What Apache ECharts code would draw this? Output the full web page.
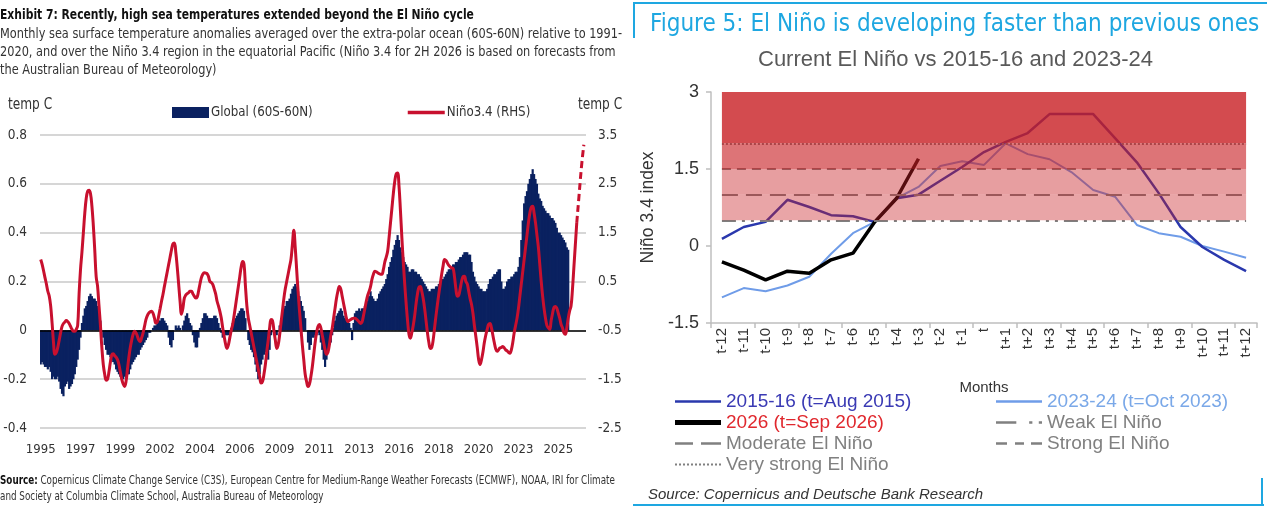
<!DOCTYPE html>
<html lang="en">
<head>
<meta charset="UTF-8">
<title>El Niño</title>
<script src="https://cdn.jsdelivr.net/npm/echarts@6/dist/echarts.min.js"></script>
<style>
  body { margin: 0; background: #fff; }
  #left { position: absolute; left: 0; top: 0; width: 630px; height: 508px; }
  #right { position: absolute; left: 630px; top: 0; width: 637px; height: 508px; }
</style>
</head>
<body>
<div id="left"></div>
<div id="right"></div>
<script type="text/javascript">
// ---------- data: left chart (monthly, Jan 1995 onwards) ----------
var firstYear = 1995, lastYear = 2026;

// global SST anomaly 60S-60N, temp C (LHS), Jan 1995 - Dec 2025
var globalSst = [
  -0.14,-0.13,-0.14,-0.15,-0.15,-0.16,-0.15,-0.17,-0.2,-0.19,-0.2,-0.2,
  -0.19,-0.21,-0.24,-0.26,-0.27,-0.23,-0.22,-0.21,-0.24,-0.23,-0.22,-0.2,
  -0.18,-0.15,-0.12,-0.08,-0.03,0.03,0.06,0.09,0.1,0.12,0.14,0.15,
  0.14,0.13,0.13,0.12,0.1,0.07,0.04,0.0,-0.03,-0.06,-0.08,-0.1,
  -0.1,-0.11,-0.12,-0.13,-0.14,-0.16,-0.17,-0.18,-0.19,-0.2,-0.2,-0.19,
  -0.2,-0.18,-0.18,-0.16,-0.14,-0.13,-0.12,-0.11,-0.1,-0.1,-0.08,-0.07,
  -0.06,-0.05,-0.04,-0.03,-0.01,-0.01,0.0,0.01,0.02,0.02,0.03,0.04,
  0.04,0.05,0.05,0.04,0.03,0.02,-0.03,-0.06,-0.07,-0.04,0.0,0.02,
  0.01,0.02,0.01,0.0,0.02,0.04,0.06,0.07,0.05,0.03,0.02,-0.02,
  -0.05,-0.07,-0.07,-0.03,0.01,0.03,0.05,0.07,0.07,0.06,0.05,0.05,
  0.05,0.05,0.06,0.06,0.05,0.03,0.01,-0.01,-0.03,-0.02,-0.02,-0.02,
  -0.02,-0.01,0.01,0.03,0.04,0.05,0.06,0.07,0.08,0.09,0.09,0.08,
  0.05,0.0,-0.04,-0.06,-0.08,-0.09,-0.11,-0.14,-0.17,-0.2,-0.18,-0.14,
  -0.12,-0.1,-0.09,-0.1,-0.12,-0.08,-0.02,0.0,-0.01,-0.02,-0.02,0.0,
  0.02,0.04,0.07,0.09,0.1,0.12,0.12,0.13,0.15,0.17,0.18,0.19,
  0.18,0.16,0.14,0.12,0.1,0.08,0.05,0.0,-0.05,-0.08,-0.06,-0.03,
  -0.03,-0.02,-0.02,-0.01,-0.02,-0.05,-0.08,-0.12,-0.15,-0.12,-0.09,-0.06,
  -0.05,-0.02,0.01,0.04,0.06,0.07,0.08,0.09,0.08,0.06,0.05,0.05,
  0.04,0.03,0.01,-0.04,0.03,0.07,0.08,0.08,0.09,0.08,0.09,0.09,
  0.1,0.11,0.12,0.14,0.16,0.14,0.13,0.12,0.12,0.13,0.15,0.16,
  0.17,0.18,0.19,0.21,0.23,0.26,0.28,0.3,0.33,0.35,0.37,0.39,
  0.37,0.34,0.32,0.3,0.28,0.27,0.26,0.24,0.24,0.25,0.25,0.24,
  0.24,0.23,0.23,0.22,0.21,0.2,0.19,0.18,0.17,0.16,0.16,0.17,
  0.17,0.17,0.18,0.18,0.19,0.2,0.21,0.21,0.22,0.23,0.24,0.25,
  0.25,0.26,0.27,0.27,0.28,0.28,0.29,0.3,0.3,0.31,0.32,0.32,
  0.32,0.31,0.31,0.28,0.24,0.22,0.2,0.19,0.18,0.17,0.17,0.16,
  0.16,0.16,0.17,0.19,0.21,0.21,0.22,0.23,0.23,0.24,0.25,0.25,
  0.2,0.17,0.17,0.18,0.2,0.21,0.21,0.22,0.22,0.23,0.24,0.24,
  0.26,0.3,0.37,0.45,0.52,0.55,0.57,0.6,0.62,0.64,0.66,0.64,
  0.62,0.6,0.56,0.54,0.53,0.51,0.5,0.49,0.48,0.48,0.47,0.46,
  0.46,0.45,0.44,0.42,0.4,0.4,0.39,0.38,0.37,0.36,0.34,0.33
];

// Nino 3.4 anomaly, temp C (RHS), Jan 1995 - Jun 2026
var nino34 = [
  0.95,0.85,0.72,0.58,0.45,0.3,0.2,0.0,-0.35,-0.75,-0.99,-0.95,
  -0.85,-0.7,-0.55,-0.42,-0.36,-0.33,-0.3,-0.32,-0.36,-0.42,-0.48,-0.52,
  -0.52,-0.48,-0.4,0.25,0.75,1.1,1.5,1.9,2.2,2.35,2.37,2.3,
  2.05,1.65,1.15,0.6,0.4,0.0,-0.4,-0.85,-1.2,-1.4,-1.52,-1.5,
  -1.35,-1.15,-1.0,-0.98,-1.02,-1.05,-1.1,-1.2,-1.35,-1.5,-1.6,-1.65,
  -1.55,-1.3,-1.05,-0.85,-0.7,-0.58,-0.52,-0.55,-0.62,-0.7,-0.73,-0.65,
  -0.55,-0.42,-0.28,-0.2,-0.15,-0.12,-0.11,-0.15,-0.25,-0.35,-0.33,-0.2,
  -0.05,0.1,0.24,0.4,0.55,0.7,0.85,1.0,1.15,1.27,1.29,1.1,
  0.8,0.45,0.1,-0.17,-0.05,0.16,0.22,0.25,0.27,0.3,0.3,0.25,
  0.2,0.16,0.18,0.3,0.45,0.58,0.65,0.68,0.67,0.66,0.6,0.5,
  0.48,0.44,0.35,0.25,0.1,0.0,-0.11,-0.25,-0.45,-0.62,-0.78,-0.87,
  -0.8,-0.65,-0.5,-0.38,-0.2,0.0,0.2,0.4,0.6,0.8,0.91,0.85,
  0.4,0.0,-0.25,-0.4,-0.55,-0.7,-0.85,-1.0,-1.15,-1.3,-1.45,-1.58,
  -1.55,-1.4,-1.2,-0.93,-0.7,-0.45,-0.28,-0.3,-0.5,-0.7,-0.87,-0.8,
  -0.6,-0.35,-0.1,0.15,0.35,0.5,0.65,0.8,0.95,1.25,1.55,1.2,
  0.75,0.3,-0.1,-0.45,-0.8,-1.1,-1.4,-1.55,-1.65,-1.6,-1.45,-1.25,
  -1.0,-0.75,-0.55,-0.42,-0.38,-0.45,-0.6,-0.75,-0.9,-0.99,-0.95,-0.8,
  -0.6,-0.46,-0.25,-0.05,0.15,0.3,0.4,0.35,0.2,0.05,-0.1,-0.25,
  -0.32,-0.3,-0.28,-0.26,-0.25,-0.25,-0.27,-0.3,-0.33,-0.36,-0.33,-0.2,
  -0.05,0.1,0.22,0.3,0.4,0.55,0.65,0.71,0.7,0.68,0.66,0.65,
  0.65,0.75,0.9,1.0,1.12,1.4,1.7,2.0,2.3,2.55,2.7,2.72,
  2.45,1.95,1.4,0.9,0.45,0.05,-0.3,-0.58,-0.66,-0.55,-0.4,-0.2,
  0.05,0.25,0.38,0.4,0.3,0.15,-0.05,-0.3,-0.55,-0.75,-0.87,-0.85,
  -0.7,-0.45,-0.2,0.03,0.25,0.45,0.65,0.82,0.95,0.93,0.88,0.83,
  0.8,0.78,0.77,0.6,0.35,0.2,0.22,0.35,0.5,0.6,0.61,0.5,
  0.45,0.3,0.15,0.03,-0.15,-0.4,-0.62,-0.85,-1.1,-1.2,-1.1,-0.95,
  -0.75,-0.6,-0.48,-0.38,-0.36,-0.45,-0.6,-0.75,-0.88,-0.93,-0.9,-0.86,
  -0.85,-0.83,-0.86,-0.9,-0.92,-0.95,-0.97,-0.9,-0.75,-0.55,-0.4,-0.25,
  -0.05,0.2,0.45,0.7,0.95,1.2,1.45,1.7,1.9,2.02,2.04,1.9,
  1.7,1.45,1.2,0.85,0.5,0.2,-0.05,-0.25,-0.4,-0.45,-0.48,-0.3,
  -0.15,-0.03,-0.01,-0.05,-0.15,-0.25,-0.38,-0.45,-0.55,-0.58,-0.45,-0.25,
  -0.1,0.0,0.35,0.8,1.25,1.7
];

// BoM forecast for 2H 2026 (dashed)
var forecastMonths = ['2026-06', '2026-07', '2026-08', '2026-09', '2026-10', '2026-11'];
var ninoForecast = [1.7, 2.05, 2.4, 2.75, 3.05, 3.3];

// ---------- data: right chart ----------
var tLabels = ['t-12','t-11','t-10','t-9','t-8','t-7','t-6','t-5','t-4','t-3','t-2','t-1','t',
  't+1','t+2','t+3','t+4','t+5','t+6','t+7','t+8','t+9','t+10','t+11','t+12'];
var nino2015 = [0.14,0.37,0.47,0.9,0.76,0.6,0.58,0.47,0.93,1.0,1.27,1.54,1.83,
  2.03,2.2,2.57,2.57,2.57,2.1,1.63,1.03,0.37,-0.02,-0.27,-0.49];
var nino2023 = [-1.0,-0.82,-0.88,-0.77,-0.6,-0.15,0.25,0.47,0.93,1.15,1.56,1.65,1.58,
  2.0,1.79,1.69,1.44,1.09,0.96,0.41,0.25,0.18,0.0,-0.11,-0.23];
var nino2026 = [-0.31,-0.47,-0.66,-0.49,-0.53,-0.27,-0.14,0.47,0.93,1.7];
var thresholdNames = ['Weak El Niño', 'Moderate El Niño', 'Strong El Niño', 'Very strong El Niño'];
var thresholdValues = [0.5, 1.0, 1.5, 2.0];
var bandEdges = [0.5, 1.0, 1.5, 2.0, 3.0];

// ---------- left chart ----------
var NARROW = "'DejaVu Sans Condensed', sans-serif";
var months = [];
for (var y = firstYear; y <= lastYear; y++) {
  for (var m = 1; m <= 12; m++) months.push(y + '-' + (m < 10 ? '0' + m : m));
}

var leftChart = echarts.init(document.getElementById('left'));
leftChart.setOption({
  animation: false,
  textStyle: { fontFamily: NARROW },
  graphic: [
    { type: 'text', x: 0, y: 8, scaleX: 0.826, silent: true,
      style: { text: 'Exhibit 7: Recently, high sea temperatures extended beyond the El Niño cycle',
        font: 'bold 14.5px ' + NARROW, fill: '#111' } },
    { type: 'text', x: 0, y: 25, scaleX: 0.9, silent: true,
      style: { text: 'Monthly sea surface temperature anomalies averaged over the extra-polar ocean (60S-60N) relative to 1991-\n' +
        '2020, and over the Niño 3.4 region in the equatorial Pacific (Niño 3.4 for 2H 2026 is based on forecasts from\n' +
        'the Australian Bureau of Meteorology)',
        font: '14px ' + NARROW, fill: '#333', lineHeight: 18 } },
    { type: 'text', x: 0, y: 473, scaleX: 0.85, silent: true,
      style: { text: '{b|Source:} Copernicus Climate Change Service (C3S), European Centre for Medium-Range Weather Forecasts (ECMWF), NOAA, IRI for Climate\n' +
        'and Society at Columbia Climate School, Australia Bureau of Meteorology',
        font: '11.5px ' + NARROW, fill: '#333', lineHeight: 16,
        rich: { b: { fontFamily: NARROW, fontSize: 11.5, fontWeight: 'bold', fill: '#111', lineHeight: 16 } } } },
    { type: 'text', x: 8, y: 98, scaleX: 0.9, silent: true,
      style: { text: 'temp C', font: '15px ' + NARROW, fill: '#333' } },
    { type: 'text', x: 578, y: 98, scaleX: 0.9, silent: true,
      style: { text: 'temp C', font: '15px ' + NARROW, fill: '#333' } }
  ],
  legend: {
    left: 167, top: 101, itemWidth: 37, itemHeight: 11, itemGap: 95,
    textStyle: { fontFamily: NARROW, fontSize: 13.2, color: '#333', padding: [0, 0, 0, -3] },
    data: [
      { name: 'Global (60S-60N)', icon: 'rect' },
      { name: 'Niño3.4 (RHS)', icon: 'path://M0,0H37V3.5H0Z' }
    ]
  },
  grid: { left: 40, right: 44, top: 135, bottom: 80 },
  xAxis: {
    type: 'category', data: months,
    axisLine: { show: false }, axisTick: { show: false },
    axisLabel: {
      interval: 27, margin: 15, fontSize: 13, color: '#333', fontFamily: NARROW,
      formatter: function (v) { return v.slice(0, 4); }
    }
  },
  yAxis: [{
    type: 'value', min: -0.4, max: 0.8, interval: 0.2,
    axisLabel: { fontSize: 13.5, color: '#333', margin: 13, fontFamily: NARROW },
    splitLine: { lineStyle: { color: '#c8c8c8', width: 1.5 } }
  }, {
    type: 'value', min: -2.5, max: 3.5, interval: 1,
    axisLabel: { fontSize: 13.5, color: '#333', margin: 12, fontFamily: NARROW },
    splitLine: { show: false }
  }],
  series: [{
    name: 'Global (60S-60N)', type: 'bar', data: globalSst, z: 1,
    barWidth: 2.2,
    itemStyle: { color: '#0a2160' },
    markLine: {
      silent: true, symbol: 'none', z: 1.5, label: { show: false },
      lineStyle: { color: '#000', width: 1.5, type: 'solid' },
      data: [{ yAxis: 0 }]
    }
  }, {
    name: 'Niño3.4 (RHS)', type: 'line', yAxisIndex: 1, data: nino34, z: 3,
    symbol: 'none', smooth: 0.4,
    lineStyle: { color: '#c8102e', width: 3 }, itemStyle: { color: '#c8102e' }
  }, {
    name: 'Niño3.4 forecast', type: 'line', yAxisIndex: 1, z: 3,
    data: forecastMonths.map(function (c, i) { return [c, ninoForecast[i]]; }),
    symbol: 'none', smooth: 0.3,
    lineStyle: { color: '#c8102e', width: 3, type: [7, 4] }
  }]
});

// ---------- right chart ----------
var SANS = "'Liberation Sans', Arial, sans-serif";
var BLUE_T = '#1ea7e1';
var dashes = [[14, 6, 3, 6, 3, 6], [16, 8], [9, 6], [2, 2]];
var bandAlpha = [0.40, 0.43, 0.62, 0.80];
var firstT = tLabels[0], lastT = tLabels[tLabels.length - 1];

// legend glyphs drawn as small paths (solid / dashed strokes)
var dotted = 'path://';
for (var k = 0; k < 12; k++) dotted += 'M' + (4 * k) + ',0H' + (4 * k + 2) + 'V2H' + (4 * k) + 'Z';
var legendIcons = {
  '2015-16 (t=Aug 2015)': 'path://M0,0H46V2.5H0Z',
  '2026 (t=Sep 2026)': 'path://M0,0H46V5H0Z',
  '2023-24 (t=Oct 2023)': 'path://M0,0H46V2.5H0Z',
  'Weak El Niño': 'path://M0,0H19V2.5H0Z M31,0H34V2.5H31Z M40,0H43V2.5H40Z',
  'Moderate El Niño': 'path://M0,0H18V2.5H0Z M26,0H46V2.5H26Z',
  'Strong El Niño': 'path://M0,0H11V2.5H0Z M19,0H28V2.5H19Z M35,0H46V2.5H35Z',
  'Very strong El Niño': dotted
};

var series = [{
  name: '2023-24 (t=Oct 2023)', type: 'line', data: nino2023, symbol: 'none', z: 2,
  lineStyle: { color: '#6f9ce8', width: 2 }, itemStyle: { color: '#6f9ce8' }
}, {
  name: '2015-16 (t=Aug 2015)', type: 'line', data: nino2015, symbol: 'none', z: 2,
  lineStyle: { color: '#2a38ad', width: 2.5 }, itemStyle: { color: '#2a38ad' }
}, {
  name: '2026 (t=Sep 2026)', type: 'line', data: nino2026, symbol: 'none', z: 2,
  lineStyle: { color: '#000', width: 3.5 }, itemStyle: { color: '#000' }
}];
thresholdNames.forEach(function (name, i) {
  series.push({
    name: name, type: 'line', data: [], symbol: 'none', z: 3,
    lineStyle: { color: '#7f7f7f', width: 2, type: dashes[i] },
    itemStyle: { color: '#808080' },
    markLine: {
      silent: true, symbol: 'none', z: 3, label: { show: false },
      lineStyle: { color: '#7f7f7f', width: 2, type: dashes[i] },
      data: [[{ xAxis: firstT, yAxis: thresholdValues[i] }, { xAxis: lastT, yAxis: thresholdValues[i] }]]
    }
  });
});
series.push({
  name: 'bands', type: 'line', data: [], z: 4, silent: true,
  markArea: {
    silent: true, z: 4,
    data: bandAlpha.map(function (a, i) {
      return [{ xAxis: firstT, yAxis: bandEdges[i], itemStyle: { color: 'rgba(200,30,35,' + a + ')' } },
              { xAxis: lastT, yAxis: bandEdges[i + 1] }];
    })
  }
});

var legendItem = function (name, c) {
  return { name: name, icon: legendIcons[name],
    textStyle: { color: c, fontSize: 19, fontFamily: SANS, lineHeight: 21 } };
};

var rightChart = echarts.init(document.getElementById('right'));
rightChart.setOption({
  animation: false,
  textStyle: { fontFamily: SANS },
  title: [{
    text: 'Figure 5: El Niño is developing faster than previous ones',
    left: 15, top: 8,
    textStyle: { fontFamily: NARROW, fontSize: 24, fontWeight: 'normal', color: BLUE_T }
  }, {
    text: 'Current El Niño vs 2015-16 and 2023-24',
    left: 123, top: 44,
    textStyle: { fontFamily: SANS, fontSize: 22, fontWeight: 'normal', color: '#595959' }
  }, {
    text: 'Source: Copernicus and Deutsche Bank Research',
    left: 13, top: 482,
    textStyle: { fontFamily: SANS, fontSize: 15, fontStyle: 'italic', fontWeight: 'normal', color: '#333' }
  }],
  graphic: [
    { type: 'rect', shape: { x: 3, y: 2, width: 634, height: 2 }, style: { fill: BLUE_T } },
    { type: 'rect', shape: { x: 3, y: 2, width: 2, height: 36 }, style: { fill: BLUE_T } },
    { type: 'rect', shape: { x: 3, y: 504, width: 631, height: 2 }, style: { fill: BLUE_T } },
    { type: 'rect', shape: { x: 631, y: 478, width: 2, height: 28 }, style: { fill: BLUE_T } }
  ],
  legend: [{
    orient: 'vertical', left: 40, top: 386, itemWidth: 46, itemHeight: 14, itemGap: 0,
    data: [
      legendItem('2015-16 (t=Aug 2015)', '#3a3ab4'),
      legendItem('2026 (t=Sep 2026)', '#e0282e'),
      legendItem('Moderate El Niño', '#808080'),
      legendItem('Very strong El Niño', '#808080')
    ]
  }, {
    orient: 'vertical', left: 361, top: 386, itemWidth: 46, itemHeight: 14, itemGap: 0,
    data: [
      legendItem('2023-24 (t=Oct 2023)', '#7aa8e8'),
      legendItem('Weak El Niño', '#808080'),
      legendItem('Strong El Niño', '#808080')
    ]
  }],
  grid: { left: 81, right: 10, top: 92, bottom: 185 },
  xAxis: [{
    type: 'category', data: tLabels, position: 'bottom',
    axisLine: { show: false }, axisTick: { show: false },
    axisLabel: { interval: 0, rotate: 90, margin: 5, fontSize: 15, color: '#333' },
    name: 'Months', nameLocation: 'middle', nameGap: 57,
    nameTextStyle: { fontSize: 15, color: '#333' }
  }, {
    type: 'category', data: tLabels, position: 'bottom',
    axisLine: { onZero: true, lineStyle: { color: '#bfbfbf', width: 1.5 } },
    axisTick: { show: true, length: 5, lineStyle: { color: '#bfbfbf', width: 1.5 } },
    axisLabel: { show: false }
  }],
  yAxis: {
    type: 'value', min: -1.5, max: 3, interval: 1.5,
    axisLine: { show: true, lineStyle: { color: '#bfbfbf', width: 1.5 } },
    axisTick: { show: true, length: 5, lineStyle: { color: '#bfbfbf', width: 1.5 } },
    axisLabel: { fontSize: 18, color: '#333', margin: 12 },
    splitLine: { show: false },
    name: 'Niño 3.4 index', nameLocation: 'middle', nameGap: 41,
    nameTextStyle: { fontSize: 17.5, color: '#333' }
  },
  series: series
});
</script>
</body>
</html>
